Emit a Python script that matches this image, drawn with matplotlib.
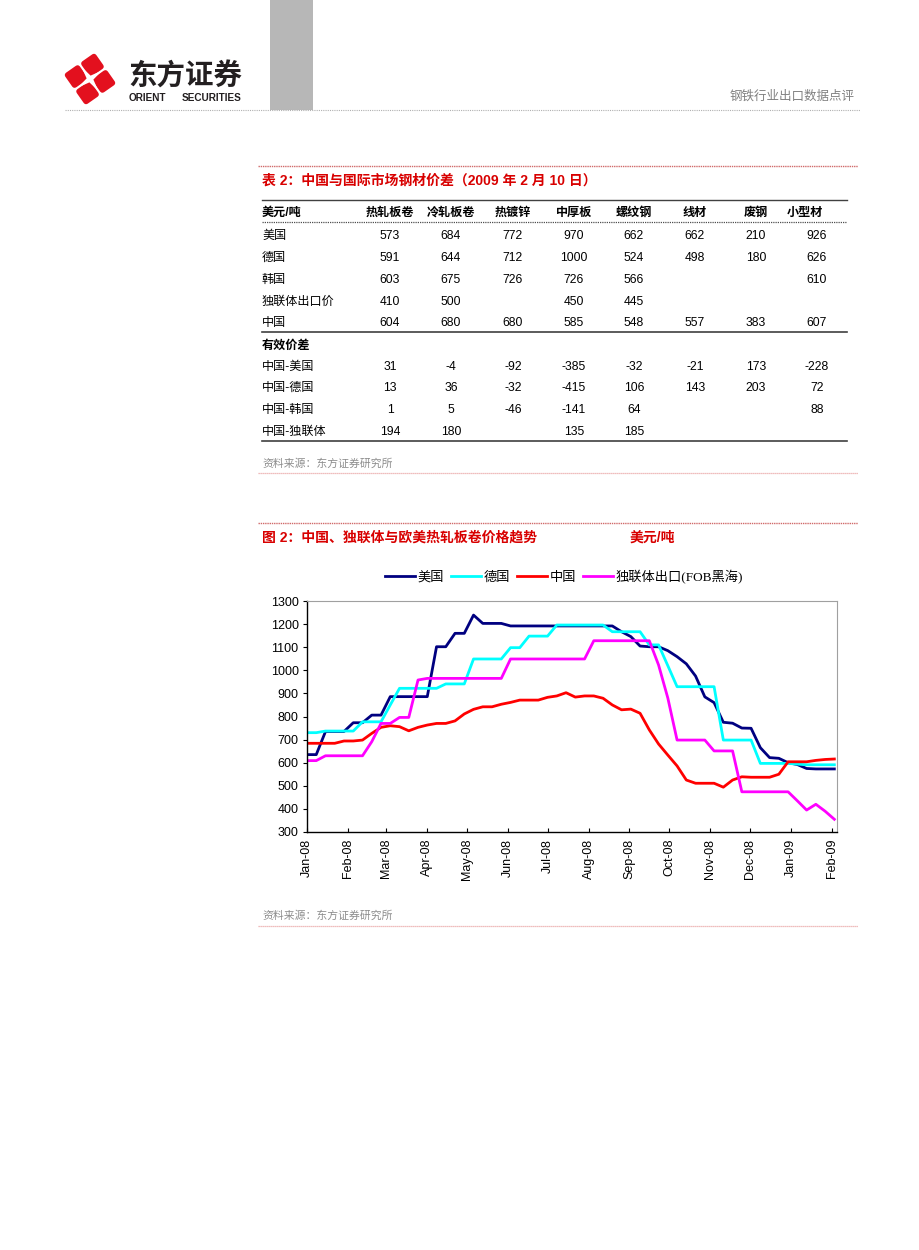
import matplotlib
matplotlib.use('Agg')
import matplotlib.pyplot as plt
import matplotlib.dates as mdates
import matplotlib.transforms as mtransforms
from matplotlib.patches import FancyBboxPatch, Polygon, Rectangle
from matplotlib.lines import Line2D
import pandas as pd

plt.rcParams['font.family'] = ['Liberation Sans', 'Noto Sans CJK SC', 'DejaVu Sans']

# ---- table data (USD/t, 2009-02-10) ----
columns = ['热轧板卷', '冷轧板卷', '热镀锌', '中厚板', '螺纹钢', '线材', '废钢', '小型材']
price_labels = ['美国', '德国', '韩国', '独联体出口价', '中国']
price_rows = [
    [573, 684, 772, 970, 662, 662, 210, 926],
    [591, 644, 712, 1000, 524, 498, 180, 626],
    [603, 675, 726, 726, 566, None, None, 610],
    [410, 500, None, 450, 445, None, None, None],
    [604, 680, 680, 585, 548, 557, 383, 607],
]
spread_labels = ['中国-美国', '中国-德国', '中国-韩国', '中国-独联体']
spread_rows = [
    [31, -4, -92, -385, -32, -21, 173, -228],
    [13, 36, -32, -415, 106, 143, 203, 72],
    [1, 5, -46, -141, 64, None, None, 88],
    [194, 180, None, 135, 185, None, None, None],
]

# ---- chart data: weekly hot-rolled coil prices, USD/t ----
us_hrc = [635, 635, 735, 735, 735, 773, 773, 806, 806, 886,
          886, 886, 886, 886, 1102, 1102, 1160, 1160, 1239, 1203,
          1203, 1203, 1192, 1192, 1192, 1192, 1192, 1192, 1192, 1192,
          1192, 1192, 1192, 1192, 1167, 1146, 1105, 1102, 1102, 1085,
          1059, 1028, 975, 885, 860, 775, 771, 750, 749, 665,
          622, 619, 600, 592, 575, 573, 573, 573]
de_hrc = [730, 730, 737, 737, 737, 737, 777, 777, 777, 850,
          922, 922, 922, 922, 922, 941, 941, 941, 1049, 1049,
          1049, 1049, 1098, 1098, 1148, 1148, 1148, 1196, 1196, 1196,
          1196, 1196, 1196, 1167, 1167, 1167, 1167, 1110, 1110, 1020,
          929, 929, 929, 929, 929, 698, 698, 698, 698, 597,
          597, 597, 597, 594, 591, 591, 591, 591]
cn_hrc = [684, 684, 684, 684, 694, 694, 698, 727, 753, 760,
          756, 738, 753, 763, 770, 770, 781, 811, 831, 842,
          842, 853, 861, 871, 871, 871, 883, 889, 903, 884,
          889, 889, 879, 850, 829, 832, 814, 742, 681, 633,
          586, 525, 511, 511, 511, 494, 525, 539, 537, 537,
          537, 550, 604, 604, 604, 610, 614, 616]
cis_hrc = [609, 609, 630, 630, 630, 630, 630, 691, 770, 770,
           796, 796, 958, 965, 965, 965, 965, 965, 965, 965,
           965, 965, 1049, 1049, 1049, 1049, 1049, 1049, 1049, 1049,
           1049, 1128, 1128, 1128, 1128, 1128, 1128, 1128, 1023, 880,
           698, 698, 698, 698, 651, 651, 651, 474, 474, 474,
           474, 474, 474, 435, 395, 420, 390, 355]
dates = pd.date_range('2008-01-01', periods=len(us_hrc), freq='7D')

W, H = 920, 1250
RED = '#d80000'
GRAY_TXT = '#8c8c8c'


def fx(x):
    return x / W


def fy(y):
    return 1 - y / H


def hline(fig, x0, x1, y, color, lw=1.0, ls='-'):
    fig.add_artist(Line2D([fx(x0), fx(x1)], [fy(y), fy(y)], transform=fig.transFigure,
                          color=color, lw=lw, ls=ls))


fig = plt.figure(figsize=(W / 100, H / 100), dpi=100)
fig.patch.set_facecolor('white')

# ---- page header ----
fig.add_artist(Rectangle((fx(270), fy(110)), 43 / W, 110 / H, transform=fig.transFigure,
                         facecolor='#b7b7b7', edgecolor='none'))
hline(fig, 65, 860, 110, '#b0b0b0', lw=0.8, ls=(0, (1, 1)))
fig.text(fx(855), fy(96), '钢铁行业出口数据点评', ha='right', va='center', fontsize=9,
         color='#808080', family='Noto Sans CJK SC')

# logo
ax_logo = fig.add_axes([fx(62), fy(106), 56 / W, 54 / H])
ax_logo.set_xlim(-1, 1)
ax_logo.set_ylim(-1, 1)
ax_logo.set_aspect('equal')
ax_logo.axis('off')
rot = mtransforms.Affine2D().rotate_deg(35) + ax_logo.transData
for sx, sy in [(1, 1), (-1, 1), (-1, -1), (1, -1)]:
    x0 = 0.04 if sx > 0 else -0.70
    y0 = 0.04 if sy > 0 else -0.70
    ax_logo.add_patch(FancyBboxPatch((x0, y0), 0.66, 0.66,
                                     boxstyle='round,pad=0,rounding_size=0.12',
                                     facecolor='#e3101e', edgecolor='none', transform=rot))
ax_logo.add_patch(Polygon([(0.55, 0), (0.09, 0.09), (0, 0.55), (-0.09, 0.09), (-0.55, 0),
                           (-0.09, -0.09), (0, -0.55), (0.09, -0.09)],
                          closed=True, facecolor='white', edgecolor='none', transform=rot))

fig.text(fx(128), fy(77), '东方证券', ha='left', va='center', fontsize=20.5, weight='bold',
         color='#231f20', family='Noto Sans CJK SC')
fig.text(fx(129), fy(98), 'ORIENT', ha='left', va='center', fontsize=7.2,
         weight='bold', color='#231f20', family='Liberation Sans')
fig.text(fx(242), fy(98), 'SECURITIES', ha='right', va='center', fontsize=7.2,
         weight='bold', color='#231f20', family='Liberation Sans')

# ---- table ----
hline(fig, 258, 858, 166, '#d06a6a', lw=1.0, ls=(0, (1, 0.6)))
fig.text(fx(262), fy(181), '表 2：中国与国际市场钢材价差（2009 年 2 月 10 日）', ha='left',
         va='center', fontsize=10, weight='bold', color=RED)

col_x = [390, 451, 513, 574, 634, 695, 756, 817]
head_x = [390, 451, 513, 574, 634, 695, 756, 805]
label_x = 262
fs = 8.7

hline(fig, 262, 847, 200, '#404040', lw=1.0)
fig.text(fx(label_x), fy(213), '美元/吨', ha='left', va='center', fontsize=fs, weight='bold')
for x, c in zip(head_x, columns):
    fig.text(fx(x), fy(213), c, ha='center', va='center', fontsize=fs, weight='bold')
hline(fig, 262, 847, 222, '#505050', lw=0.9, ls=(0, (1, 0.8)))

price_y = [236, 258, 280, 302, 323]
for y, lab, row in zip(price_y, price_labels, price_rows):
    fig.text(fx(label_x), fy(y), lab, ha='left', va='center', fontsize=fs)
    for x, v in zip(col_x, row):
        if v is not None:
            fig.text(fx(x), fy(y), str(v), ha='center', va='center', fontsize=fs)
hline(fig, 262, 847, 332, '#404040', lw=1.2)

fig.text(fx(label_x), fy(346), '有效价差', ha='left', va='center', fontsize=fs, weight='bold')
spread_y = [367, 388, 410, 432]
for y, lab, row in zip(spread_y, spread_labels, spread_rows):
    fig.text(fx(label_x), fy(y), lab, ha='left', va='center', fontsize=fs)
    for x, v in zip(col_x, row):
        if v is not None:
            fig.text(fx(x), fy(y), str(v), ha='center', va='center', fontsize=fs)
hline(fig, 262, 847, 441, '#404040', lw=1.2)

fig.text(fx(262), fy(464), '资料来源：东方证券研究所', ha='left', va='center', fontsize=7.8,
         color=GRAY_TXT)
hline(fig, 258, 858, 473, '#eaa8a8', lw=0.9, ls=(0, (1, 0.6)))

# ---- chart ----
hline(fig, 258, 858, 523, '#d06a6a', lw=1.0, ls=(0, (1, 0.6)))
fig.text(fx(262), fy(538), '图 2：中国、独联体与欧美热轧板卷价格趋势', ha='left', va='center',
         fontsize=10, weight='bold', color=RED)
fig.text(fx(630), fy(538), '美元/吨', ha='left', va='center', fontsize=10, weight='bold', color=RED)

ax = fig.add_axes([fx(307), fy(832), (837 - 307) / W, (832 - 601) / H])
ax.plot(dates, us_hrc, color='#000080', lw=2.0, label='美国')
ax.plot(dates, de_hrc, color='#00ffff', lw=2.0, label='德国')
ax.plot(dates, cn_hrc, color='#ff0000', lw=2.0, label='中国')
ax.plot(dates, cis_hrc, color='#ff00ff', lw=2.0, label='独联体出口(FOB黑海)')

ax.set_xlim(pd.Timestamp('2008-01-01'), pd.Timestamp('2009-02-05'))
ax.set_ylim(300, 1300)
ax.set_yticks(range(300, 1301, 100))
ax.xaxis.set_major_locator(mdates.MonthLocator())
ax.xaxis.set_major_formatter(mdates.DateFormatter('%b-%y'))
ax.tick_params(axis='x', direction='in', length=3, labelsize=9, pad=5)
ax.tick_params(axis='y', direction='out', length=3, labelsize=9, pad=3)
plt.setp(ax.get_xticklabels(), rotation=90, ha='center', va='top')
for side in ['top', 'right']:
    ax.spines[side].set_color('#a0a0a0')
    ax.spines[side].set_linewidth(0.8)
for side in ['left', 'bottom']:
    ax.spines[side].set_color('black')
    ax.spines[side].set_linewidth(1.0)

ax.legend(loc='center', bbox_to_anchor=(fx(564), fy(577)), bbox_transform=fig.transFigure,
          ncol=4, frameon=False, handlelength=2.3, handletextpad=0.2,
          columnspacing=0.5, borderpad=0, prop={'family': ['Liberation Serif', 'Noto Sans CJK SC'],
                                                'size': 9.5})

fig.text(fx(262), fy(916), '资料来源：东方证券研究所', ha='left', va='center', fontsize=7.8,
         color=GRAY_TXT)
hline(fig, 258, 858, 926, '#eaa8a8', lw=0.9, ls=(0, (1, 0.6)))

fig.savefig('out.png', dpi=100, facecolor='white')
